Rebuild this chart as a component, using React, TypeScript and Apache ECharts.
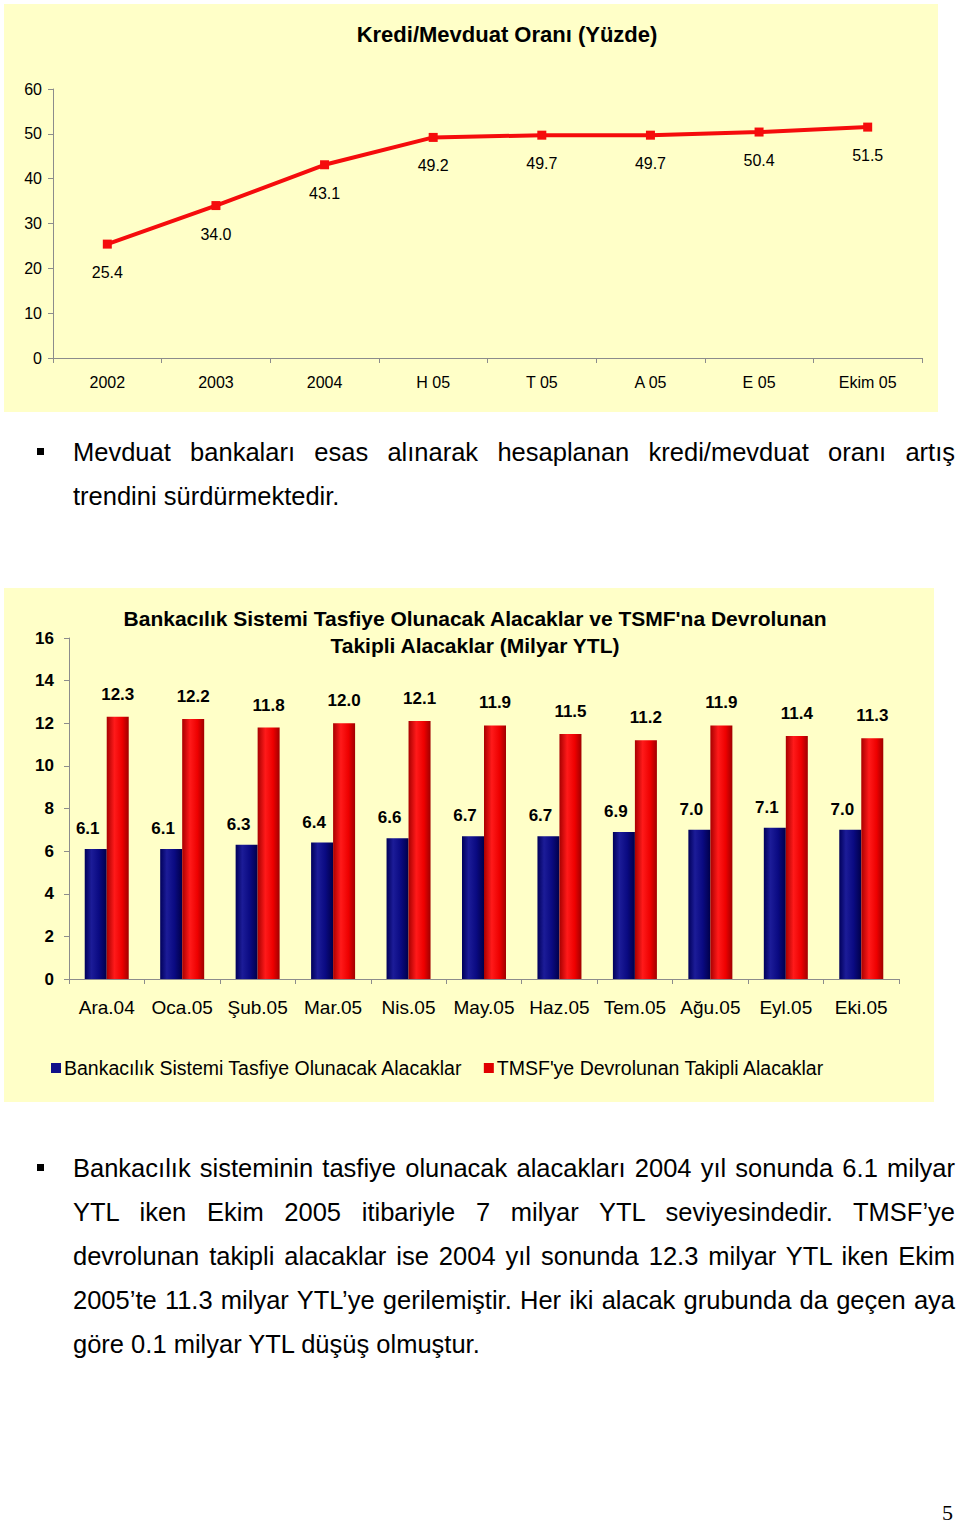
import React, { useEffect, useRef } from "react";
import * as echarts from "echarts";

const lineCategories = ["2002", "2003", "2004", "H 05", "T 05", "A 05", "E 05", "Ekim 05"];
const lineValues = [25.4, 34.0, 43.1, 49.2, 49.7, 49.7, 50.4, 51.5];

const barCategories = ["Ara.04", "Oca.05", "Şub.05", "Mar.05", "Nis.05", "May.05", "Haz.05", "Tem.05", "Ağu.05", "Eyl.05", "Eki.05"];
const tasfiyeValues = [6.1, 6.1, 6.3, 6.4, 6.6, 6.7, 6.7, 6.9, 7.0, 7.1, 7.0];
const tmsfValues = [12.3, 12.2, 11.8, 12.0, 12.1, 11.9, 11.5, 11.2, 11.9, 11.4, 11.3];

const para1Lines = [
  "Mevduat bankaları esas alınarak hesaplanan kredi/mevduat oranı artış",
  "trendini sürdürmektedir.",
];
const para2Lines = [
  "Bankacılık sisteminin tasfiye olunacak alacakları 2004 yıl sonunda 6.1 milyar",
  "YTL iken Ekim 2005 itibariyle 7 milyar YTL seviyesindedir. TMSF’ye",
  "devrolunan takipli alacaklar ise 2004 yıl sonunda 12.3 milyar YTL iken Ekim",
  "2005’te 11.3 milyar YTL’ye gerilemiştir. Her iki alacak grubunda da geçen aya",
  "göre 0.1 milyar YTL düşüş olmuştur.",
];

const SANS = "'Liberation Sans', Arial, sans-serif";
const NARROW = "'Liberation Sans Narrow', 'Arial Narrow', 'Liberation Sans', Arial, sans-serif";
const BG = "#FFFFC8";

function Chart({ option, style }: { option: any; style: React.CSSProperties }) {
  const ref = useRef<HTMLDivElement>(null);
  useEffect(() => {
    if (!ref.current) return;
    const chart = echarts.init(ref.current, undefined, { renderer: "svg" });
    chart.setOption(option);
    return () => chart.dispose();
  }, []);
  return <div ref={ref} style={style} />;
}

const lineOption = {
  animation: false,
  backgroundColor: BG,
  title: {
    text: "Kredi/Mevduat Oranı (Yüzde)",
    left: 498,
    textAlign: "center",
    top: 14,
    textStyle: { fontFamily: SANS, fontSize: 22, fontWeight: "bold", color: "#000" },
  },
  grid: { left: 49, right: 16, top: 85, bottom: 54 },
  xAxis: {
    type: "category",
    data: lineCategories,
    boundaryGap: true,
    axisLine: { lineStyle: { color: "#8c8c8c", width: 1 } },
    axisTick: { show: true, length: 5, lineStyle: { color: "#8c8c8c" } },
    axisLabel: { fontFamily: SANS, fontSize: 16, color: "#000", margin: 16 },
  },
  yAxis: {
    type: "value",
    min: 0,
    max: 60,
    interval: 10,
    splitLine: { show: false },
    axisLine: { show: true, lineStyle: { color: "#8c8c8c", width: 1 } },
    axisTick: { show: true, length: 5, lineStyle: { color: "#8c8c8c" } },
    axisLabel: { fontFamily: SANS, fontSize: 16, color: "#000", margin: 11 },
  },
  series: [
    {
      type: "line",
      data: lineValues,
      symbol: "rect",
      symbolSize: 9,
      lineStyle: { color: "#F50C0C", width: 4 },
      itemStyle: { color: "#F50C0C" },
      label: {
        show: true,
        position: "bottom",
        distance: 16,
        formatter: (p: any) => p.value.toFixed(1),
        fontFamily: SANS,
        fontSize: 16,
        color: "#000",
      },
    },
  ],
};

const blueGrad = new echarts.graphic.LinearGradient(0, 0, 1, 0, [
  { offset: 0, color: "#00005a" },
  { offset: 0.3, color: "#1c1c98" },
  { offset: 0.65, color: "#0a0a82" },
  { offset: 1, color: "#00004a" },
]);
const redGrad = new echarts.graphic.LinearGradient(0, 0, 1, 0, [
  { offset: 0, color: "#a80000" },
  { offset: 0.35, color: "#ff1a1a" },
  { offset: 0.7, color: "#ee0000" },
  { offset: 1, color: "#a00000" },
]);

const barOption = {
  animation: false,
  backgroundColor: BG,
  title: {
    text: "Bankacılık Sistemi Tasfiye Olunacak Alacaklar ve TSMF'na Devrolunan\nTakipli Alacaklar (Milyar YTL)",
    left: 466,
    textAlign: "center",
    top: 12,
    textStyle: { fontFamily: SANS, fontSize: 21, fontWeight: "bold", color: "#000", lineHeight: 27 },
  },
  legend: {
    left: 42,
    top: 465,
    itemWidth: 10,
    itemHeight: 10,
    itemGap: 21,
    icon: "rect",
    textStyle: { fontFamily: NARROW, fontSize: 19.5, color: "#000", padding: [0, 0, 0, -2] },
    data: [
      { name: "Bankacılık Sistemi Tasfiye Olunacak Alacaklar", itemStyle: { color: "#10108a" } },
      { name: "TMSF'ye Devrolunan Takipli Alacaklar", itemStyle: { color: "#e00000" } },
    ],
  },
  grid: { left: 65, right: 35, top: 50, bottom: 123 },
  xAxis: {
    type: "category",
    data: barCategories,
    axisLine: { lineStyle: { color: "#8c8c8c", width: 1 } },
    axisTick: { show: true, length: 5, lineStyle: { color: "#8c8c8c" } },
    axisLabel: { fontFamily: NARROW, fontSize: 19, color: "#000", margin: 19, interval: 0 },
  },
  yAxis: {
    type: "value",
    min: 0,
    max: 16,
    interval: 2,
    splitLine: { show: false },
    axisLine: { show: true, lineStyle: { color: "#8c8c8c", width: 1 } },
    axisTick: { show: true, length: 5, lineStyle: { color: "#8c8c8c" } },
    axisLabel: { fontFamily: SANS, fontSize: 17, fontWeight: "bold", color: "#000", margin: 15 },
  },
  series: [
    {
      name: "Bankacılık Sistemi Tasfiye Olunacak Alacaklar",
      type: "bar",
      data: tasfiyeValues,
      barWidth: 22,
      barGap: "0%",
      itemStyle: { color: blueGrad },
      label: {
        show: true,
        position: "top",
        distance: 12,
        offset: [-8, 0],
        formatter: (p: any) => p.value.toFixed(1),
        fontFamily: SANS,
        fontSize: 17,
        fontWeight: "bold",
        color: "#000",
      },
    },
    {
      name: "TMSF'ye Devrolunan Takipli Alacaklar",
      type: "bar",
      data: tmsfValues,
      barWidth: 22,
      barGap: "0%",
      itemStyle: { color: redGrad },
      label: {
        show: true,
        position: "top",
        distance: 14,
        formatter: (p: any) => p.value.toFixed(1),
        fontFamily: SANS,
        fontSize: 17,
        fontWeight: "bold",
        color: "#000",
      },
    },
  ],
};

function Paragraph({ lines, top }: { lines: string[]; top: number }) {
  const lh = 44;
  return (
    <>
      <div
        style={{
          position: "absolute",
          left: 37,
          top: top + lh / 2 - 4,
          width: 7,
          height: 7,
          background: "#000",
        }}
      />
      {lines.map((l, i) => (
        <div
          key={i}
          style={{
            position: "absolute",
            left: 73,
            top: top + i * lh,
            width: 882,
            height: lh,
            lineHeight: lh + "px",
            fontFamily: SANS,
            fontSize: 25.5,
            color: "#000",
            whiteSpace: "nowrap",
            textAlign: i === lines.length - 1 ? "left" : "justify",
            textAlignLast: i === lines.length - 1 ? "left" : "justify",
          }}
        >
          {l}
        </div>
      ))}
    </>
  );
}

export default function App() {
  return (
    <div style={{ position: "absolute", left: 0, top: 0, width: 960, height: 1525, background: "#fff", overflow: "hidden" }}>
      <Chart option={lineOption} style={{ position: "absolute", left: 4, top: 4, width: 934, height: 408 }} />
      <Paragraph lines={para1Lines} top={430} />
      <Chart option={barOption} style={{ position: "absolute", left: 4, top: 588, width: 930, height: 514 }} />
      <Paragraph lines={para2Lines} top={1146} />
      <div
        style={{
          position: "absolute",
          left: 942,
          top: 1502,
          lineHeight: "22px",
          fontFamily: "'Liberation Serif', 'Times New Roman', serif",
          fontSize: 22,
          color: "#000",
        }}
      >
        5
      </div>
    </div>
  );
}
